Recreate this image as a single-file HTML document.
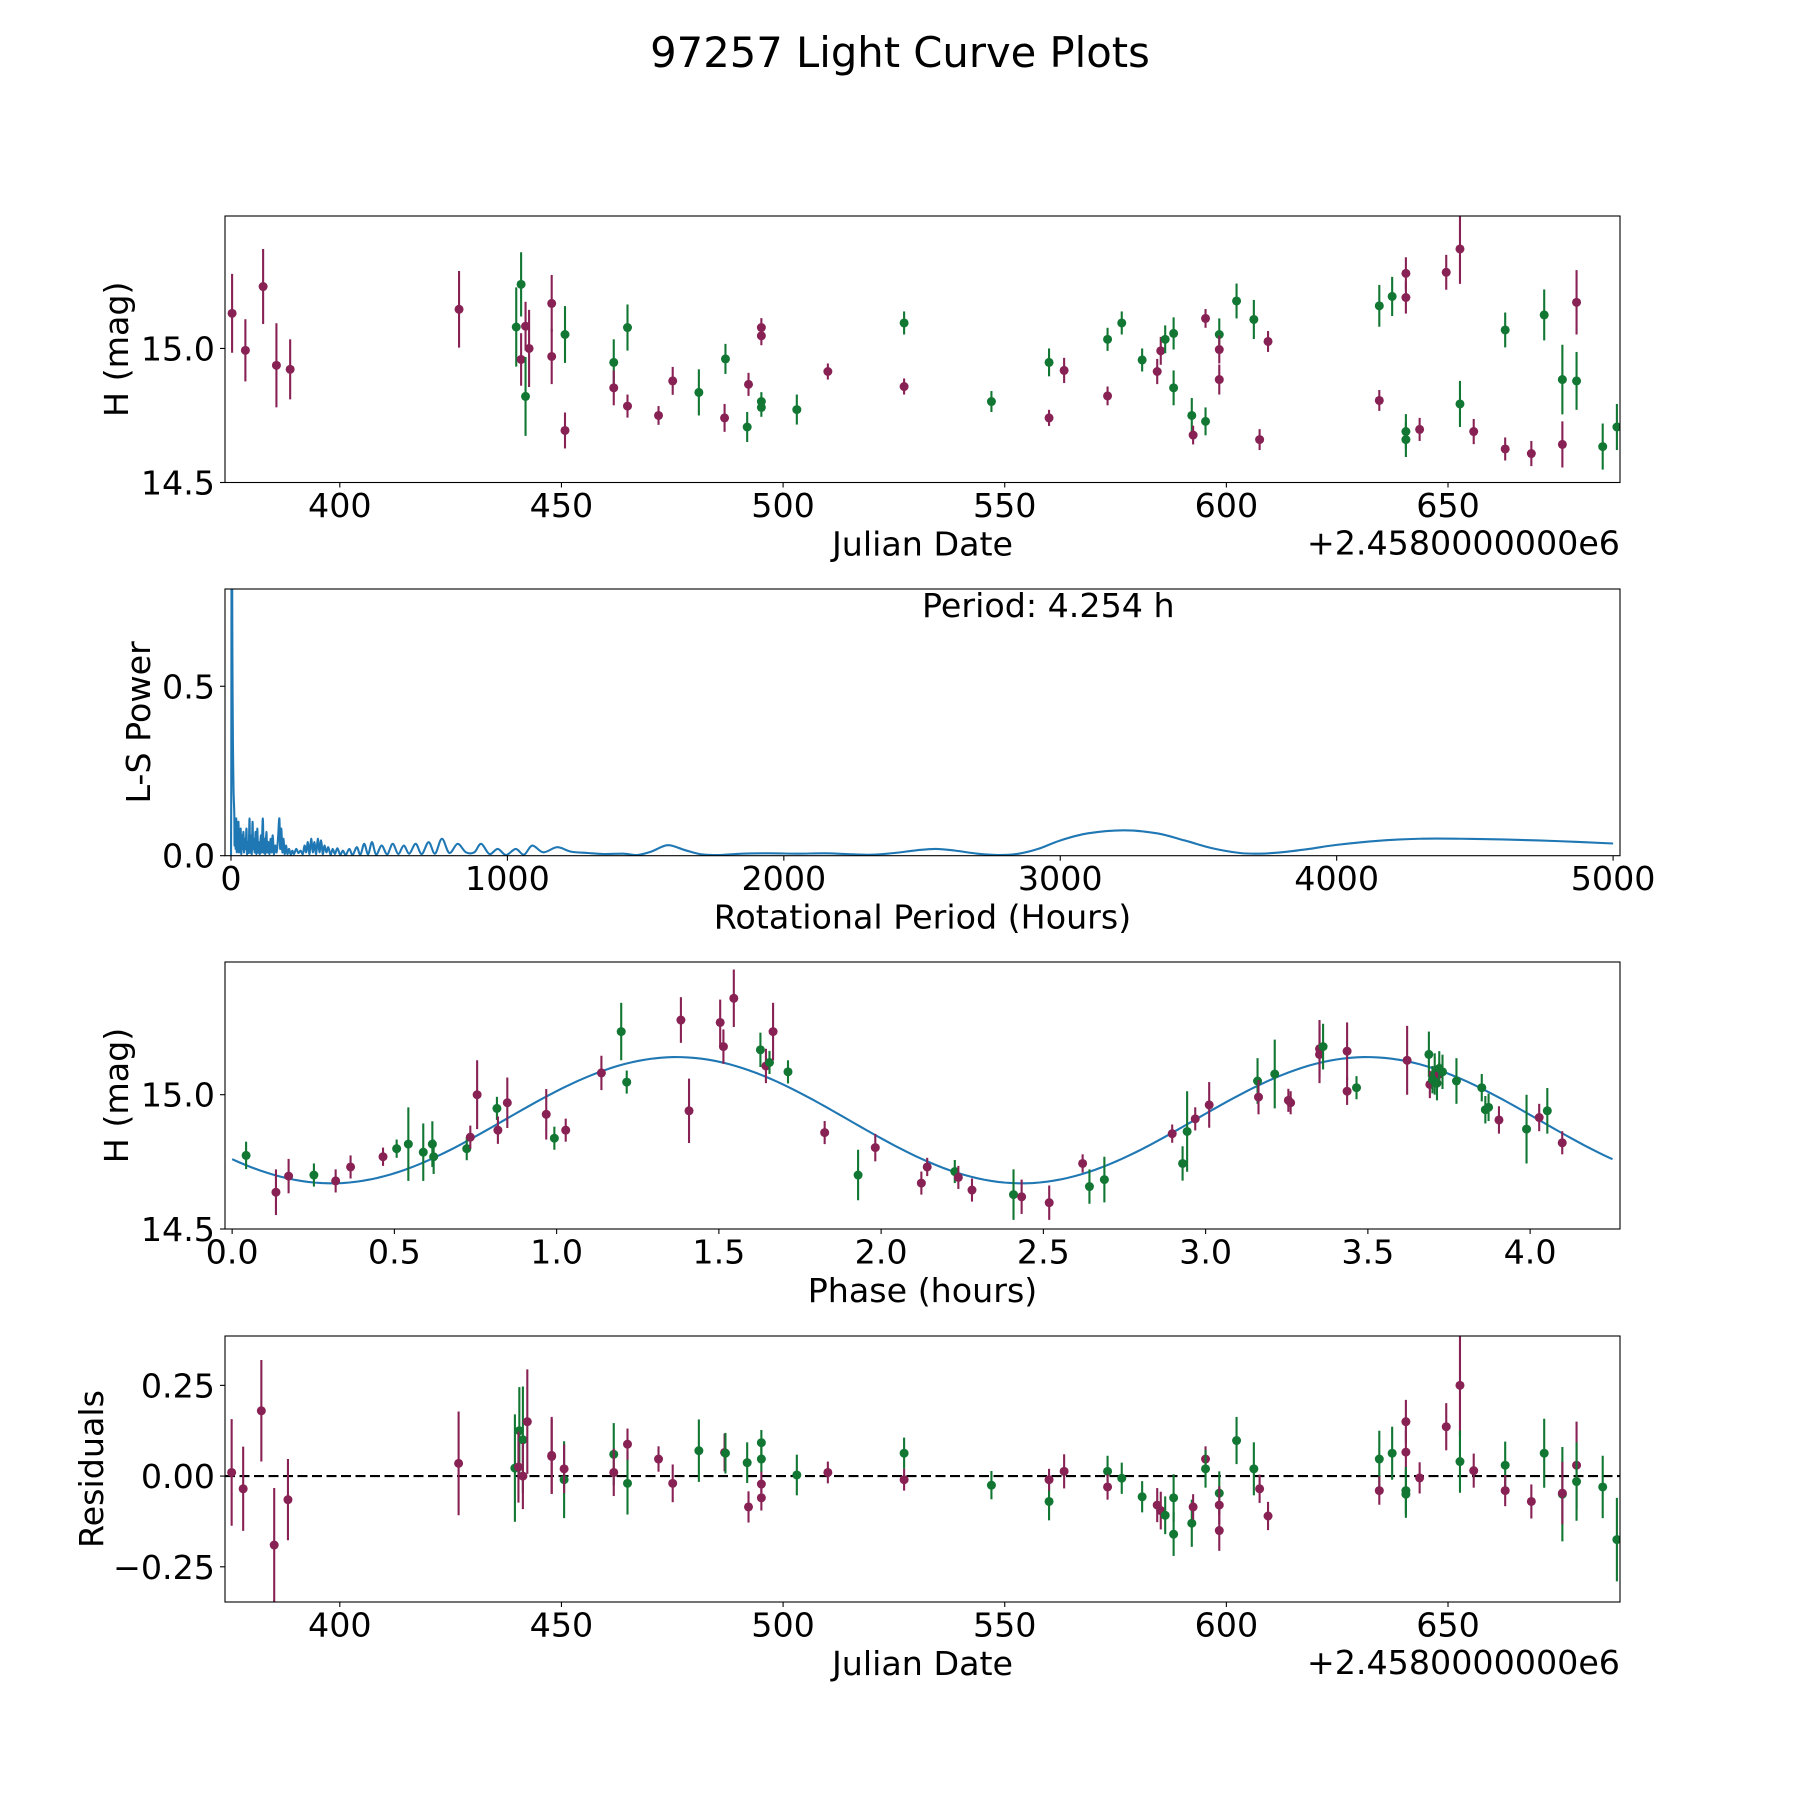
<!DOCTYPE html>
<html><head><meta charset="utf-8">
<style>
html,body{margin:0;padding:0;background:#fff;}
svg{display:block;}
text{font-family:"DejaVu Sans","Liberation Sans",sans-serif;fill:#000;}
</style></head>
<body>
<svg id="fig" width="1800" height="1800" viewBox="0 0 1800 1800" xmlns="http://www.w3.org/2000/svg">
<rect width="1800" height="1800" fill="#fff"/>
<text x="900" y="67" font-size="41.7" text-anchor="middle">97257 Light Curve Plots</text>
</svg>
<script>
// ---------- Light curve data ----------
const lcJD = [375.7,378.7,382.7,385.7,388.8,426.9,439.8,440.9,440.9,441.9,441.9,442.7,447.8,447.8,450.8,450.8,461.8,461.8,464.9,464.9,471.9,475.1,481.0,486.8,487.0,491.9,492.2,495.1,495.1,495.1,495.1,503.1,510.1,527.3,527.3,547.0,560.0,560.0,563.4,573.2,573.2,576.4,581.0,584.4,585.2,586.2,588.1,588.1,592.2,592.5,595.3,595.3,598.4,598.4,598.4,602.3,606.2,607.5,609.4,634.5,634.5,637.4,640.5,640.5,640.5,640.5,643.6,649.6,652.7,652.7,655.8,662.9,662.9,668.8,671.7,675.8,675.8,679.0,679.0,684.9,688.1];
const lcMag = [15.131,14.993,15.231,14.937,14.922,15.146,15.08,15.239,14.959,15.083,14.821,15.0,15.168,14.97,15.052,14.694,14.948,14.853,15.078,14.785,14.75,14.879,14.836,14.741,14.961,14.707,14.866,15.078,15.047,14.802,14.78,14.772,14.914,15.095,14.858,14.802,14.948,14.741,14.918,15.034,14.823,15.095,14.957,14.914,14.991,15.034,15.056,14.853,14.75,14.677,15.112,14.728,15.052,14.996,14.884,15.177,15.108,14.66,15.026,15.159,14.806,15.194,15.28,15.19,14.69,14.66,14.698,15.284,15.371,14.793,14.69,15.069,14.625,14.608,15.125,14.884,14.642,15.172,14.879,14.634,14.707];
const lcErr = [.147,.116,.14,.157,.112,.143,.148,.12,.098,.091,.147,.144,.106,.103,.106,.067,.086,.065,.086,.043,.035,.052,.086,.052,.056,.056,.043,.035,.035,.035,.035,.056,.03,.043,.03,.039,.052,.03,.047,.043,.035,.043,.043,.047,.052,.052,.06,.065,.065,.035,.035,.052,.06,.052,.056,.065,.073,.039,.039,.078,.039,.073,.06,.06,.065,.065,.043,.065,.13,.086,.047,.065,.043,.047,.095,.13,.086,.12,.108,.086,.086];
const lcBand = ("MMMMMMGGMMGMMMGM"+"GMGMMMGMGG"+"MMMGGGMGMG"+"GMMGMGGMMG"+"GGGMMGGMMG"+"GMMGMGMMGG"+"MMMGMGMMGG"+"MMGGG").split('');

// ---------- Periodogram data ----------
const lsPeriod = [0,1,2,3,4,5,6,7,8,9,10,12,13,15,17,19,21,23,25,27,29,31,33,35,37,40,42,45,47,50,53,56,58,61,64,67,69,72,75,78,80,83,86,89,92,95,98,101,104,108,111,115,118,121,124,128,131,135,139,143,147,151,155,160,165,170,175,178,182,186,190,194,199,204,210,216,222,228,236,244,252,260,266,272,278,284,290,296,302,308,314,320,326,332,338,345,352,360,368,376,385,395,405,415,428,440,455,468,482,496,510,525,545,565,585,605,625,645,668,690,715,738,763,790,820,850,880,905,935,965,995,1030,1060,1090,1130,1180,1230,1290,1350,1420,1470,1520,1580,1640,1700,1760,1850,1950,2050,2150,2250,2320,2400,2480,2550,2620,2700,2780,2850,2920,3000,3100,3230,3350,3450,3550,3650,3720,3800,3900,4000,4150,4300,4450,4600,4800,5000];
const lsPower = [0,0.2,0.95,1.2,0.9,0.6,0.45,0.33,0.26,0.2,0.17,0.12,0.03,0.1,0.02,0.11,0.01,0.09,0.03,0.1,0.01,0.07,0.02,0.08,0.005,0.06,0.02,0.07,0.01,0.05,0.02,0.08,0.005,0.04,0.01,0.11,0.01,0.06,0.005,0.1,0.02,0.05,0.01,0.07,0.005,0.08,0.01,0.04,0.005,0.06,0.01,0.11,0.01,0.05,0.005,0.07,0.01,0.04,0.005,0.05,0.01,0.06,0.005,0.03,0.01,0.05,0.11,0.02,0.08,0.01,0.05,0.005,0.03,0.005,0.02,0.003,0.015,0.005,0.02,0.008,0.015,0.005,0.03,0.01,0.04,0.005,0.05,0.01,0.04,0.005,0.05,0.01,0.045,0.005,0.03,0.01,0.025,0.003,0.02,0.005,0.022,0.003,0.015,0.002,0.02,0.002,0.025,0.003,0.035,0.004,0.04,0.003,0.03,0.004,0.035,0.005,0.03,0.006,0.035,0.005,0.04,0.006,0.05,0.008,0.035,0.01,0.01,0.035,0.005,0.02,0.002,0.02,0.003,0.03,0.01,0.025,0.012,0.008,0.005,0.006,0.002,0.012,0.031,0.017,0.004,0.002,0.006,0.007,0.006,0.007,0.004,0.003,0.008,0.016,0.02,0.015,0.006,0.002,0.006,0.02,0.045,0.066,0.075,0.066,0.045,0.022,0.008,0.006,0.01,0.02,0.032,0.044,0.05,0.05,0.048,0.043,0.036];
const periodLabel = ["Period: 4.254 h"];

// ---------- Phased data ----------
const phHours = [0.043,0.135,0.174,0.252,0.319,0.365,0.465,0.507,0.543,0.589,0.617,0.621,0.723,0.734,0.755,0.816,0.819,0.848,0.968,0.993,1.028,1.138,1.199,1.216,1.383,1.408,1.504,1.514,1.546,1.628,1.645,1.656,1.667,1.713,1.826,1.929,1.982,2.124,2.142,2.227,2.238,2.280,2.408,2.433,2.518,2.621,2.642,2.688,2.897,2.929,2.943,2.968,3.011,3.160,3.163,3.213,3.255,3.262,3.351,3.351,3.362,3.436,3.436,3.465,3.621,3.688,3.691,3.699,3.706,3.713,3.720,3.720,3.730,3.773,3.851,3.862,3.872,3.904,3.989,4.028,4.053,4.099];
const phMag = [14.774,14.637,14.697,14.701,14.679,14.731,14.769,14.799,14.816,14.786,14.816,14.769,14.799,14.842,15.0,14.949,14.868,14.970,14.927,14.838,14.868,15.081,15.235,15.047,15.278,14.940,15.269,15.179,15.359,15.167,15.107,15.12,15.235,15.085,14.859,14.701,14.803,14.671,14.731,14.714,14.692,14.645,14.628,14.620,14.598,14.744,14.658,14.684,14.855,14.744,14.863,14.910,14.962,15.051,14.991,15.077,14.979,14.970,15.171,15.150,15.179,15.162,15.013,15.026,15.128,15.150,15.038,15.056,15.077,15.043,15.077,15.098,15.085,15.051,15.026,14.944,14.953,14.906,14.872,14.915,14.940,14.821];
const phErr = [.051,.085,.064,.043,.043,.043,.034,.034,.137,.107,.085,.064,.043,.043,.128,.043,.051,.094,.094,.043,.043,.064,.107,.043,.085,.12,.085,.064,.107,.064,.064,.043,.107,.043,.043,.094,.051,.043,.034,.043,.043,.043,.094,.064,.064,.034,.064,.085,.034,.064,.15,.043,.085,.085,.064,.128,.043,.043,.107,.107,.085,.107,.051,.043,.128,.085,.051,.051,.077,.064,.043,.064,.064,.085,.051,.051,.051,.051,.128,.051,.085,.043];
const phBand = ("GMMGMMMGGG"+"GGGMMGMMMG"+"MMGGMMMMMG"+"MGMGMGMMMG"+"MMGMMMGGMG"+"GMMGMGMMMM"+"GMMGMGMGGG"+"MGGGGGGMGM"+"GM").split('');
const fitParams = [14.905, 0.235, 2.127, 0.838]; // mean, amplitude, half-period (h), phase offset
const fitRange = [0, 4.254];

// ---------- Residuals ----------
const resJD = [375.6,378.2,382.3,385.2,388.3,426.8,439.5,440.5,440.3,441.3,441.3,442.3,447.8,447.8,450.6,450.6,461.8,461.8,464.9,464.9,471.9,475.1,481.0,486.8,487.0,491.9,492.2,495.1,495.1,495.1,495.1,503.1,510.1,527.3,527.3,547.0,560.0,560.0,563.4,573.2,573.2,576.4,581.0,584.4,585.2,586.2,588.1,588.1,592.2,592.5,595.3,595.3,598.4,598.4,598.4,602.3,606.2,607.5,609.4,634.5,634.5,637.4,640.5,640.5,640.5,640.5,643.6,649.6,652.7,652.7,655.8,662.9,662.9,668.8,671.7,675.8,675.8,679.0,679.0,684.9,688.1];
const resVal = [.01,-.035,.18,-.19,-.065,.035,.022,.125,.025,.10,.00,.15,.057,.054,-.01,.02,.06,.01,-.02,.088,.047,-.02,.07,.065,.063,.037,-.085,-.022,-.06,.047,.092,.003,.01,.063,-.01,-.025,-.07,-.01,.013,.013,-.03,-.006,-.057,-.08,-.095,-.108,-.16,-.06,-.13,-.085,.047,.02,-.047,-.08,-.15,.098,.02,-.035,-.11,.047,-.04,.063,.15,.066,-.04,-.05,-.005,.136,.25,.04,.015,.03,-.04,-.07,.063,-.05,-.047,.03,-.015,-.03,-.175];
const resErr = [.147,.116,.14,.157,.112,.143,.148,.12,.098,.147,.091,.144,.106,.103,.106,.067,.086,.065,.086,.043,.035,.052,.086,.052,.056,.056,.043,.035,.035,.035,.035,.056,.03,.043,.03,.039,.052,.03,.047,.043,.035,.043,.043,.047,.052,.052,.06,.065,.065,.035,.035,.052,.06,.052,.056,.065,.073,.039,.039,.078,.039,.073,.06,.06,.065,.065,.043,.065,.14,.086,.047,.065,.043,.047,.095,.13,.086,.12,.108,.086,.115];
const resBand = ("MMMMMMGGMG"+"MMMMGMGMGM"+"MMGMGGMMMG"+"GGMGMGGMMG"+"MGGMMGGGGM"+"MGGMMGGMMG"+"MGMMGGMMMG"+"MGMMGGMMGGG").split('');

// ---------- Tick labels ----------
const jdTicks = [400,450,500,550,600,650];
const magTicks = [14.5,15.0];
const magTickLabels = ["14.5","15.0"];
const lsXTicks = [0,1000,2000,3000,4000,5000];
const lsYTicks = [0.0,0.5];
const lsYTickLabels = ["0.0","0.5"];
const phTicks = [0,0.5,1,1.5,2,2.5,3,3.5,4];
const phTickLabels = ["0.0","0.5","1.0","1.5","2.0","2.5","3.0","3.5","4.0"];
const resTicks = [-0.25,0,0.25];
const resTickLabels = ["\u22120.25","0.00","0.25"];

const NS = "http://www.w3.org/2000/svg";
const fig = document.getElementById('fig');
const COL = {M:"#882255", G:"#117733"};
const L = 225, R = 1620;

function el(tag, attrs, parent){
  const e = document.createElementNS(NS, tag);
  for (const k in attrs) e.setAttribute(k, attrs[k]);
  (parent||fig).appendChild(e);
  return e;
}
function lin(d0,d1,r0,r1){ return v => r0 + (v-d0)/(d1-d0)*(r1-r0); }

function makeAxes(name, top, bottom, xd, yd){
  const g = el('g', {});
  
  
  const clipId = name + '-clip';
  const cp = el('clipPath', {id: clipId}, g);
  el('rect', {x:L, y:top, width:R-L, height:bottom-top}, cp);
  const plot = el('g', {'clip-path':'url(#'+clipId+')'}, g);
  
  
  return {g, plot, top, bottom, x: lin(xd[0],xd[1],L,R), y: lin(yd[0],yd[1],bottom,top)};
}
function frame(ax){
  const f = el('rect', {x:L, y:ax.top, width:R-L, height:ax.bottom-ax.top, fill:'none', stroke:'#000', 'stroke-width':1.1}, ax.g);
  
  
}
function xTicks(ax, vals, labels, tickName){
  vals.forEach((v,i) => {
    const px = ax.x(v);
    const t = el('line', {x1:px, x2:px, y1:ax.bottom, y2:ax.bottom+5, stroke:'#000', 'stroke-width':1.1}, ax.g);
    
    
    const tx = el('text', {x:px, y:ax.bottom+34.5, 'font-size':33.3, 'text-anchor':'middle'}, ax.g);
    
    
    tx.textContent = labels[i];
  });
}
function yTicks(ax, vals, labels, tickName){
  vals.forEach((v,i) => {
    const py = ax.y(v);
    const t = el('line', {x1:L-5, x2:L, y1:py, y2:py, stroke:'#000', 'stroke-width':1.1}, ax.g);
    
    
    const tx = el('text', {x:L-10, y:py+12, 'font-size':33.3, 'text-anchor':'end'}, ax.g);
    
    
    tx.textContent = labels[i];
  });
}
function xLabel(ax, txt, nm){
  const t = el('text', {x:(L+R)/2, y:ax.bottom+73, 'font-size':33.3, 'text-anchor':'middle'}, ax.g);
  
  
  t.textContent = txt;
}
function yLabel(ax, txt, nm, xb){
  const cy = (ax.top+ax.bottom)/2;
  const t = el('text', {x:xb, y:cy, 'font-size':33.3, 'text-anchor':'middle', transform:'rotate(-90 '+xb+' '+cy+')'}, ax.g);
  
  
  t.textContent = txt;
}
function offsetText(ax){
  const t = el('text', {x:R, y:ax.bottom+72, 'font-size':33.3, 'text-anchor':'end'}, ax.g);
  
  
  t.textContent = '+2.4580000000e6';
}
function errPoints(ax, xs, ys, es, bands, nm){
  xs.forEach((xv,i) => {
    const c = COL[bands[i]];
    const px = ax.x(xv), py = ax.y(ys[i]);
    const ln = el('line', {x1:px, x2:px, y1:ax.y(ys[i]-es[i]), y2:ax.y(ys[i]+es[i]), stroke:c, 'stroke-width':2.1}, ax.plot);
    
    
    const pt = el('circle', {cx:px, cy:py, r:4.5, fill:c}, ax.plot);
    
    
  });
}

// ----- Panel 1: light curve -----
const ax1 = makeAxes('light-curve-panel', 216, 482.5, [374.1, 688.8], [14.5, 15.494]);
errPoints(ax1, lcJD, lcMag, lcErr, lcBand, 'magnitude');
frame(ax1);
xTicks(ax1, jdTicks, jdTicks.map(String), 'julian-date');
yTicks(ax1, magTicks, magTickLabels, 'magnitude');
xLabel(ax1, 'Julian Date', 'x-axis-title');
yLabel(ax1, 'H (mag)', 'y-axis-title', 128);
offsetText(ax1);

// ----- Panel 2: periodogram (Catmull-Rom smoothed) -----
const ax2 = makeAxes('periodogram-panel', 589, 855.7, [-21.7, 5025], [0, 0.787]);
const P = lsPeriod.map((p,i) => [ax2.x(p), ax2.y(lsPower[i])]);
let d = 'M' + P[0][0].toFixed(2) + ' ' + P[0][1].toFixed(2);
for (let i=0; i<P.length-1; i++){
  const p0 = P[Math.max(0,i-1)], p1 = P[i], p2 = P[i+1], p3 = P[Math.min(P.length-1,i+2)];
  const c1x = p1[0] + (p2[0]-p0[0])/6, c1y = p1[1] + (p2[1]-p0[1])/6;
  const c2x = p2[0] - (p3[0]-p1[0])/6, c2y = p2[1] - (p3[1]-p1[1])/6;
  d += 'C' + c1x.toFixed(2)+' '+c1y.toFixed(2)+' '+c2x.toFixed(2)+' '+c2y.toFixed(2)+' '+p2[0].toFixed(2)+' '+p2[1].toFixed(2);
}
const lsLine = el('path', {d:d, fill:'none', stroke:'#1f77b4', 'stroke-width':2.1, 'stroke-linejoin':'round'}, ax2.plot);


frame(ax2);
xTicks(ax2, lsXTicks, lsXTicks.map(String), 'period');
yTicks(ax2, lsYTicks, lsYTickLabels, 'power');
xLabel(ax2, 'Rotational Period (Hours)', 'x-axis-title');
yLabel(ax2, 'L-S Power', 'y-axis-title', 150);
const pt = el('text', {x:922, y:617, 'font-size':33.3, 'text-anchor':'start'}, ax2.g);


pt.textContent = periodLabel[0];

// ----- Panel 3: phased -----
const ax3 = makeAxes('phase-panel', 962, 1229, [-0.022, 4.277], [14.5, 15.494]);
let fd = '';
const nF = 200;
for (let k=0; k<=nF; k++){
  const ph = fitRange[0] + (fitRange[1]-fitRange[0])*k/nF;
  const m = fitParams[0] + fitParams[1]*Math.sin(2*Math.PI*(ph-fitParams[3])/fitParams[2]);
  fd += (k?'L':'M') + ax3.x(ph).toFixed(2) + ' ' + ax3.y(m).toFixed(2);
}
const fitLine = el('path', {d:fd, fill:'none', stroke:'#1f77b4', 'stroke-width':2.1}, ax3.plot);


errPoints(ax3, phHours, phMag, phErr, phBand, 'phased');
frame(ax3);
xTicks(ax3, phTicks, phTickLabels, 'phase');
yTicks(ax3, magTicks, magTickLabels, 'magnitude');
xLabel(ax3, 'Phase (hours)', 'x-axis-title');
yLabel(ax3, 'H (mag)', 'y-axis-title', 128);

// ----- Panel 4: residuals -----
const ax4 = makeAxes('residuals-panel', 1336, 1602, [374.1, 688.8], [-0.347, 0.386]);
const zl = el('line', {x1:L, x2:R, y1:ax4.y(0), y2:ax4.y(0), stroke:'#000', 'stroke-width':2.2, 'stroke-dasharray':'10 4.5'}, ax4.plot);


errPoints(ax4, resJD, resVal, resErr, resBand, 'residual');
frame(ax4);
xTicks(ax4, jdTicks, jdTicks.map(String), 'julian-date');
yTicks(ax4, resTicks, resTickLabels, 'residual');
xLabel(ax4, 'Julian Date', 'x-axis-title');
yLabel(ax4, 'Residuals', 'y-axis-title', 103);
offsetText(ax4);
</script>
</body></html>
